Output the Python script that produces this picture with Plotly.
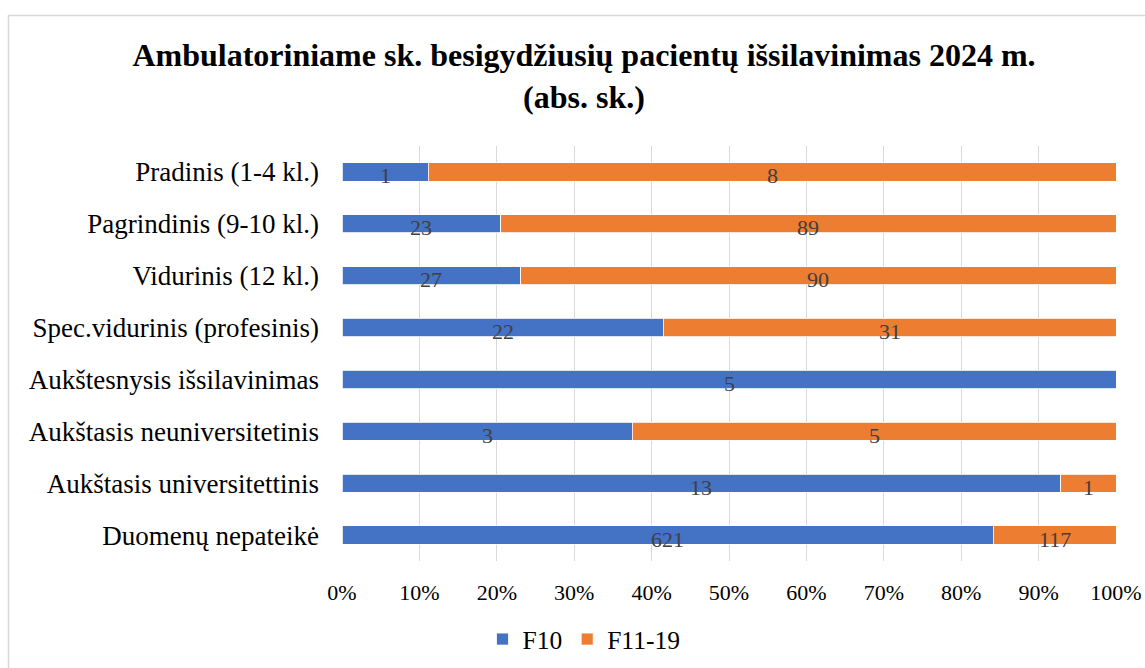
import plotly.graph_objects as go

categories = [
    "Pradinis (1-4 kl.)",
    "Pagrindinis (9-10 kl.)",
    "Vidurinis (12 kl.)",
    "Spec.vidurinis (profesinis)",
    "Aukštesnysis išsilavinimas",
    "Aukštasis neuniversitetinis",
    "Aukštasis universitettinis",
    "Duomenų nepateikė",
]
f10 = [1, 23, 27, 22, 5, 3, 13, 621]
f11_19 = [8, 89, 90, 31, 0, 5, 1, 117]
tick_vals = [0, 10, 20, 30, 40, 50, 60, 70, 80, 90, 100]
tick_text = [f"{v}%" for v in tick_vals]

FONT = "Liberation Serif, Times New Roman, serif"

fig = go.Figure()
for name, vals, color in [("F10", f10, "#4472C4"), ("F11-19", f11_19, "#ED7D31")]:
    fig.add_trace(go.Bar(
        y=categories, x=vals, name=name, orientation="h",
        marker=dict(color=color, line=dict(color="white", width=0.8)),
        hoverinfo="skip",
    ))

# data labels centred in each segment (positions derived from the data)
for cat, a, b in zip(categories, f10, f11_19):
    total = a + b
    segs = [(a, 0), (b, a)]
    for val, start in segs:
        if not val:
            continue
        fig.add_annotation(
            x=(start + val / 2) / total * 100, y=cat, xref="x", yref="y",
            text=str(val), showarrow=False, xanchor="center", yanchor="middle",
            yshift=-4,
            font=dict(family=FONT, size=22, color="#404040"),
        )

L, R, T, B = 342, 29, 146, 107
W, H = 1145, 668
pw, ph = W - L - R, H - T - B

def px_to_paper_x(px):
    return (px - L) / pw

def px_to_paper_y(py):
    return 1 - (py - T) / ph

fig.update_layout(
    width=W, height=H,
    barmode="stack", barnorm="percent", bargap=0.65,
    margin=dict(l=L, r=R, t=T, b=B, pad=0, autoexpand=False),
    paper_bgcolor="white", plot_bgcolor="white",
    font=dict(family=FONT, color="#000000"),
    title=dict(
        text="<b>Ambulatoriniame sk. besigydžiusių pacientų išsilavinimas 2024 m.<br>(abs. sk.)</b>",
        x=584 / W, xref="container", xanchor="center",
        y=1 - 66 / H, yanchor="top",
        font=dict(family=FONT, size=32, color="#000000"),
    ),
    xaxis=dict(
        range=[0, 100], tickvals=tick_vals, ticktext=tick_text,
        showgrid=True, gridcolor="#d9d9d9", gridwidth=1.2,
        zeroline=False, showline=False, ticks="",
        tickfont=dict(family=FONT, size=22, color="#000000"),
        ticklabelstandoff=16, automargin=False,
        fixedrange=True,
    ),
    yaxis=dict(
        categoryorder="array", categoryarray=categories,
        autorange="reversed", showgrid=False, showline=False, ticks="",
        tickfont=dict(family=FONT, size=27, color="#000000"),
        ticklabelstandoff=22, automargin=False,
    ),
    legend=dict(
        orientation="h", x=584 / W, xanchor="center", xref="container",
        y=1 - 616 / H, yref="container", yanchor="top",
        font=dict(family=FONT, size=25.5, color="#000000"),
        traceorder="normal",
    ),
    showlegend=True,
)

fig.add_shape(
    type="rect", xref="paper", yref="paper",
    x0=px_to_paper_x(8.5), x1=px_to_paper_x(1160),
    y0=px_to_paper_y(700), y1=px_to_paper_y(15.5),
    line=dict(color="#d9d9d9", width=1.5), fillcolor="rgba(0,0,0,0)",
    layer="below",
)

fig.write_html(
    "out.html",
    config={"displayModeBar": False},
    post_script="document.body.style.margin='0';document.body.style.overflow='hidden';",
)
